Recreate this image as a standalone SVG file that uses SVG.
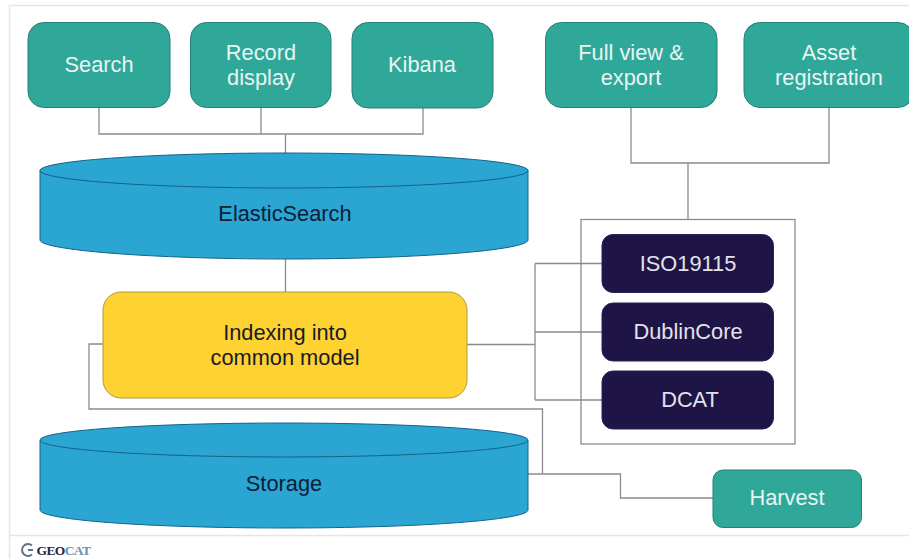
<svg xmlns="http://www.w3.org/2000/svg" width="909" height="559" viewBox="0 0 909 559">
<style>
text{font-family:"Liberation Sans",Arial,sans-serif;font-size:21.8px;text-anchor:middle}
.t rect{fill:#2fa899;stroke:#257f76;stroke-width:1}
.t text{fill:#e8f5f2}
.n rect{fill:#1e1446;stroke:#2a2358;stroke-width:1}
.n text{fill:#e4e2ec}
.d path,.d ellipse{fill:#2ba5d2;stroke:#14638a;stroke-width:1}
.d text{fill:#0c2038}
.c{fill:none;stroke:#8c8c8c;stroke-width:1.300}
</style>
<rect width="909" height="559" fill="#fff"/>
<path d="M9.500 559V5.500H909M9.500 535.500H909" fill="none" stroke="#e6e6e6" stroke-width="1.500"/>
<g id="connectors">
<path class="c" d="M99 107V134H423V108M261 107V134M285.500 134V153M285.500 258V292"/>
<path class="c" d="M631 107V163H829V107M688 163V220"/>
<path class="c" d="M467 344.500H535M535 263.500V400M535 263.500H602M535 332H602M535 400H602"/>
<path class="c" d="M103 344H89V409H542.500V474M528 474H620.500V498H713"/>
</g>
<g id="search" class="t"><rect x="28" y="22.500" width="142" height="85" rx="16"/><text x="99" y="72">Search</text></g>
<g id="record-display" class="t"><rect x="190.500" y="22.500" width="140.500" height="85" rx="16"/><text x="261" y="60">Record</text><text x="261" y="85">display</text></g>
<g id="kibana" class="t"><rect x="352" y="22.500" width="141" height="85.500" rx="16"/><text x="422" y="72">Kibana</text></g>
<g id="full-view" class="t"><rect x="545.500" y="22.500" width="171.500" height="85" rx="16"/><text x="631" y="60">Full view &amp;</text><text x="631" y="85">export</text></g>
<g id="asset-registration" class="t"><rect x="744" y="22.500" width="170" height="85" rx="16"/><text x="829" y="60">Asset</text><text x="829" y="85">registration</text></g>
<g id="elasticsearch" class="d"><path d="M40 170V240C40 250 150 259 285 259S528 250 528 240V170Z"/><ellipse cx="284" cy="170.500" rx="244" ry="17.500"/><text x="285" y="221">ElasticSearch</text></g>
<g id="indexing"><rect x="103" y="292" width="364" height="106" rx="18" fill="#fdd231" stroke="#b29a3a"/><text x="285" y="340" fill="#1a1a2a">Indexing into</text><text x="285" y="365" fill="#1a1a2a">common model</text></g>
<g id="formats"><rect x="581" y="219.500" width="214" height="224.500" fill="none" stroke="#8c8c8c" stroke-width="1.300"/></g>
<g id="iso19115" class="n"><rect x="602" y="234.500" width="171.500" height="58" rx="11"/><text x="688" y="271">ISO19115</text></g>
<g id="dublincore" class="n"><rect x="602" y="303" width="171.500" height="58" rx="11"/><text x="688" y="339">DublinCore</text></g>
<g id="dcat" class="n"><rect x="602" y="371" width="171.500" height="58" rx="11"/><text x="690" y="407">DCAT</text></g>
<g id="storage" class="d"><path d="M40 440V510C40 520 150 528 284 528S528 520 528 510V440Z"/><ellipse cx="284" cy="440" rx="244" ry="17"/><text x="284" y="491">Storage</text></g>
<g id="harvest" class="t"><rect x="713" y="470" width="148.500" height="57.500" rx="10"/><text x="787" y="505">Harvest</text></g>
<g id="logo"><path d="M32 545.500A6 6 0 1 0 32 554.500M33 550H28" fill="none" stroke="#5f7186" stroke-width="2"/><text x="36.500" y="555" style="font-size:13.500px;font-weight:700;text-anchor:start;letter-spacing:-0.600px;font-family:'Liberation Serif',serif" fill="#232846">GEO<tspan fill="#6d8fb4">CAT</tspan></text></g>
</svg>
